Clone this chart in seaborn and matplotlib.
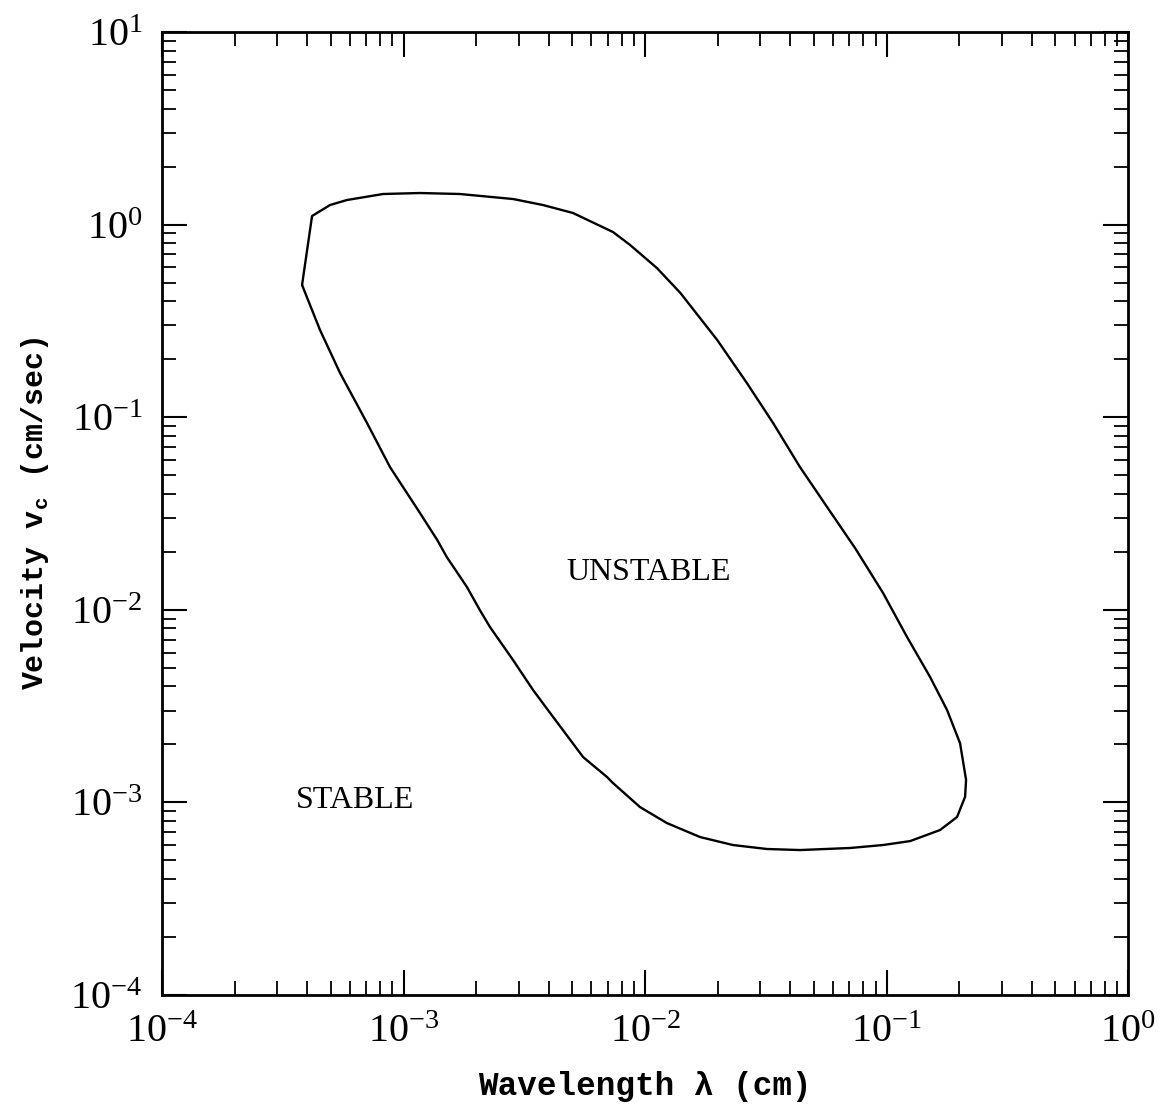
import numpy as np
import pandas as pd
import matplotlib.pyplot as plt
import matplotlib.ticker as mticker
import seaborn as sns

# Marginal stability boundary, traced clockwise from the lower-left corner
wavelength = [3.80e-4, 4.18e-4, 4.96e-4, 5.83e-4, 8.23e-4, 1.17e-3, 1.71e-3, 2.84e-3,
              3.78e-3, 5.03e-3, 7.37e-3, 8.67e-3, 1.12e-2, 1.40e-2, 1.99e-2, 2.64e-2,
              3.39e-2, 4.38e-2, 5.67e-2, 7.41e-2, 9.67e-2, 0.1216, 0.1514, 0.178,
              0.2015, 0.2134, 0.2114, 0.1958, 0.1665, 0.1252, 9.67e-2, 7.06e-2,
              4.38e-2, 3.20e-2, 2.31e-2, 1.69e-2, 1.23e-2, 9.53e-3, 7.37e-3, 6.96e-3,
              5.54e-3, 4.16e-3, 3.44e-3, 2.84e-3, 2.28e-3, 2.07e-3, 1.83e-3, 1.51e-3,
              1.38e-3, 1.17e-3, 8.79e-4, 7.06e-4, 5.46e-4, 4.51e-4, 3.80e-4]
velocity = [0.486, 1.108, 1.264, 1.342, 1.442, 1.459, 1.442, 1.358,
            1.264, 1.149, 0.915, 0.784, 0.595, 0.442, 0.2517, 0.1505,
            0.0933, 0.0551, 0.0342, 0.0209, 0.01223, 7.22e-3, 4.48e-3, 3.02e-3,
            2.03e-3, 1.31e-3, 1.07e-3, 8.40e-4, 7.19e-4, 6.30e-4, 6.01e-4, 5.80e-4,
            5.66e-4, 5.73e-4, 6.01e-4, 6.61e-4, 7.82e-4, 9.46e-4, 1.26e-3, 1.355e-3,
            1.72e-3, 2.78e-3, 3.83e-3, 5.49e-3, 8.14e-3, 9.97e-3, 1.314e-2, 1.88e-2,
            2.30e-2, 3.18e-2, 5.51e-2, 9.33e-2, 0.1696, 0.2836, 0.486]

region_labels = ["UNSTABLE", "STABLE"]
label_x = [1.03e-2, 6.3e-4]
label_y = [1.57e-2, 1.02e-3]

df = pd.DataFrame({"wavelength": wavelength, "velocity": velocity})

sns.set_theme(style="ticks")
plt.rcParams["mathtext.fontset"] = "cm"
plt.rcParams["font.family"] = ["Liberation Serif", "DejaVu Serif"]
plt.rcParams["text.color"] = "black"
plt.rcParams["axes.labelcolor"] = "black"
plt.rcParams["xtick.color"] = "black"
plt.rcParams["ytick.color"] = "black"

fig = plt.figure(figsize=(11.69, 11.04), dpi=100)
ax = fig.add_axes([0.1386, 0.0987, 0.8264, 0.8723])

sns.lineplot(data=df, x="wavelength", y="velocity", sort=False, estimator=None,
             color="black", linewidth=1.7, ax=ax)
for ln in ax.get_lines():
    ln.set_solid_joinstyle("round")

ax.set_xscale("log")
ax.set_yscale("log")
ax.set_xlim(1e-4, 1e0)
ax.set_ylim(1e-4, 1e1)

ax.xaxis.set_major_locator(mticker.LogLocator(base=10, numticks=10))
ax.yaxis.set_major_locator(mticker.LogLocator(base=10, numticks=10))
ax.xaxis.set_minor_locator(mticker.LogLocator(base=10, subs=np.arange(2, 10), numticks=20))
ax.yaxis.set_minor_locator(mticker.LogLocator(base=10, subs=np.arange(2, 10), numticks=20))
ax.xaxis.set_minor_formatter(mticker.NullFormatter())
ax.yaxis.set_minor_formatter(mticker.NullFormatter())

ax.tick_params(which="both", direction="in", top=True, right=True,
               colors="black", labelcolor="black")
ax.tick_params(which="major", length=18, width=1.5, labelsize=29, pad=14)
ax.tick_params(which="minor", length=10, width=1.3)
for s in ax.spines.values():
    s.set_linewidth(2.0)
    s.set_color("black")

for t, x, y in zip(region_labels, label_x, label_y):
    ax.text(x, y, t, ha="center", va="center", fontsize=23, color="black",
            family=["Liberation Serif", "DejaVu Serif"])

ax.set_xlabel("Wavelength \u03bb (cm)", fontsize=23.5, fontweight="bold", color="black",
              family=["Liberation Mono", "DejaVu Sans Mono"], labelpad=14)
ax.set_ylabel("Velocity v$_\\mathregular{c}$ (cm/sec)", fontsize=21.5, fontweight="bold",
              color="black", family=["Liberation Mono", "DejaVu Sans Mono"], labelpad=14)

fig.savefig("out.png", dpi=100, facecolor="white")
plt.close(fig)
